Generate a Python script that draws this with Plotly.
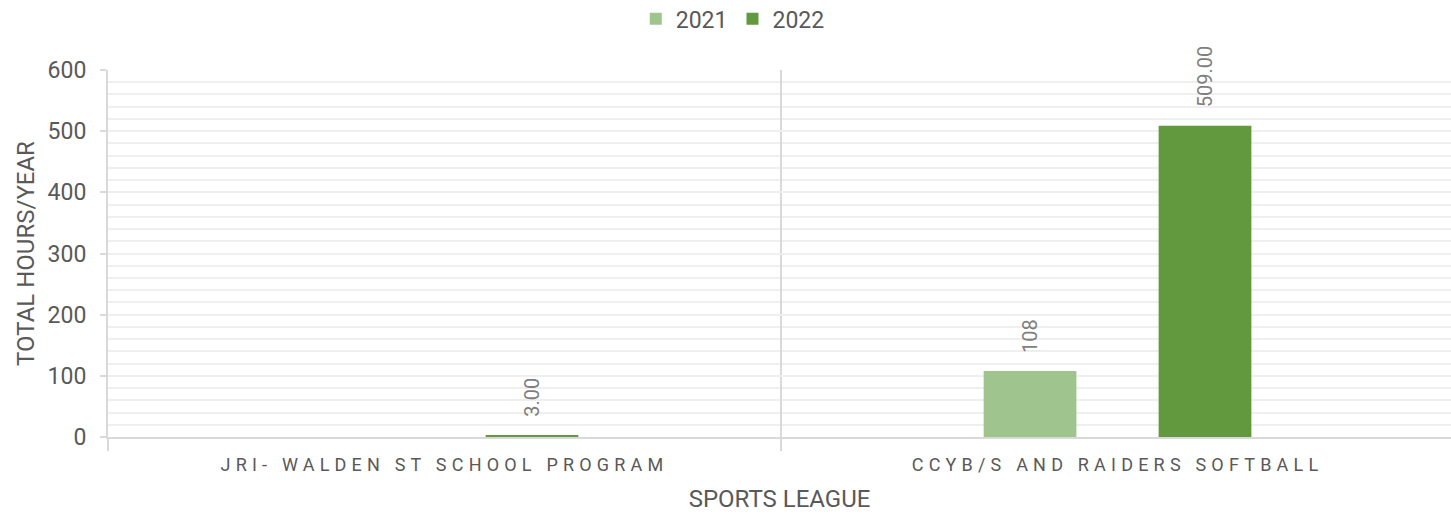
import plotly.graph_objects as go

categories = ["JRI- WALDEN ST SCHOOL PROGRAM", "CCYB/S AND RAIDERS SOFTBALL"]
series_names = ["2021", "2022"]
values_2021 = [None, 108]
values_2022 = [3, 509]
labels_2021 = ["", "108"]
labels_2022 = ["3.00", "509.00"]
colors = ["#A0C48E", "#62993E"]

fig = go.Figure()
for name, vals, col in zip(series_names, [values_2021, values_2022], colors):
    fig.add_trace(go.Bar(x=categories, y=vals, name=name, marker_color=col, marker_line_width=0))

bargap = 0.48
slot = (1 - bargap) / 2
for k, (vals, labs) in enumerate([(values_2021, labels_2021), (values_2022, labels_2022)]):
    off = (k - 0.5) * slot
    for i, (v, t) in enumerate(zip(vals, labs)):
        if v is None or t == "":
            continue
        fig.add_annotation(x=i + off, y=v, text=t, textangle=-90, showarrow=False,
                           yanchor="bottom", xanchor="center", yshift=16,
                           font=dict(family="Roboto", size=20, color="#7F7F7F"))

tick_text = ['<span style="letter-spacing:5.2px">%s</span>' % c for c in categories]

fig.update_layout(
    width=1451, height=514,
    margin=dict(l=108, r=0, t=70, b=77, autoexpand=False),
    paper_bgcolor="white", plot_bgcolor="white",
    barmode="group", bargap=bargap, bargroupgap=0.47,
    font=dict(family="Roboto", size=22, color="#595959"),
    showlegend=True,
    legend=dict(orientation="h", x=0.505, xanchor="center", xref="container",
                y=1.198, yanchor="top", yref="paper",
                font=dict(size=23, color="#595959"),
                itemwidth=30, tracegroupgap=0),
    xaxis=dict(type="category", tickmode="array", tickvals=categories, ticktext=tick_text,
               range=[-0.5, 1.4955], tickson="boundaries", ticks="outside", ticklen=12,
               tickcolor="#D9D9D9", tickwidth=2, showgrid=True, gridcolor="#D9D9D9", gridwidth=2,
               showline=True, linecolor="#D9D9D9", linewidth=2, automargin=False,
               ticklabelstandoff=10,
               tickfont=dict(size=18, color="#595959"),
               title=dict(text="SPORTS LEAGUE", font=dict(size=24, color="#595959"), standoff=17)),
    yaxis=dict(range=[0, 600], dtick=100, tick0=0, showgrid=True, gridcolor="#EFEFEF", gridwidth=2,
               showline=True, linecolor="#D9D9D9", linewidth=2, ticks="outside", ticklen=6,
               tickcolor="#D9D9D9", tickwidth=2, zeroline=False, automargin=False,
               ticklabelstandoff=9,
               minor=dict(dtick=20, showgrid=True, gridcolor="#EFEFEF", gridwidth=2),
               tickfont=dict(size=23, color="#595959"),
               title=dict(text="TOTAL HOURS/YEAR", font=dict(size=24, color="#595959"), standoff=6)),
)
post = ("document.documentElement.style.margin='0';document.body.style.margin='0';"
        "document.body.style.padding='0';document.body.style.overflow='hidden';"
        "var gd=document.getElementById('{plot_id}');if(window.Plotly&&gd){Plotly.Plots.resize(gd);}")
fig.write_html("out.html", post_script=post, config={"displayModeBar": False})
